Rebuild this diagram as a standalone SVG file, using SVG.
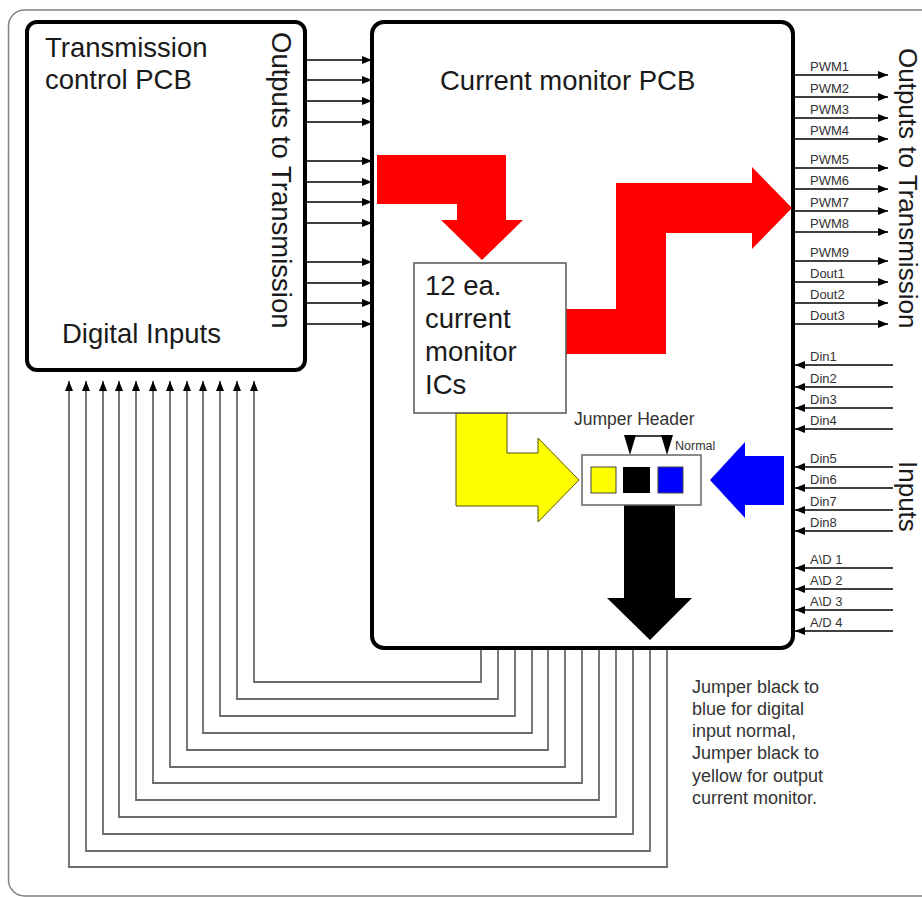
<svg xmlns="http://www.w3.org/2000/svg" width="922" height="897" viewBox="0 0 922 897">
<style>
  text { font-family: "Liberation Sans", Arial, sans-serif; }
  .big { font-size: 27.5px; fill: #1a1a1a; }
  .side { font-size: 26px; fill: #1a1a1a; }
  .lbl { font-size: 13px; fill: #333; }
  .note { font-size: 18px; fill: #333; }
  .pcb { fill: #fff; stroke: #000; stroke-width: 4; }
  .wire { stroke: #000; stroke-width: 1.3; fill: none; }
  .gwire { stroke: #6a6a6a; stroke-width: 1.8; fill: none; }
</style>
<defs>
  <marker id="ah" viewBox="0 0 10 8" refX="10" refY="4" markerWidth="10" markerHeight="8" markerUnits="userSpaceOnUse" orient="auto">
    <path d="M0,0 L10,4 L0,8 z" fill="#000"/>
  </marker>
</defs>
<rect x="0" y="0" width="922" height="897" fill="#fff"/>
<rect id="frame" x="8.5" y="10" width="940" height="886" rx="16" fill="none" stroke="#808080" stroke-width="1.5"/>

<g id="transmission-control-pcb">
  <rect class="pcb" x="27" y="22" width="278" height="348" rx="10"/>
  <text class="big" x="45" y="57">Transmission</text>
  <text class="big" x="45" y="89">control PCB</text>
  <text class="big" x="62" y="343">Digital Inputs</text>
  <text class="big" transform="translate(272,32) rotate(90)">Outputs to Transmission</text>
</g>

<g id="current-monitor-pcb">
  <rect class="pcb" x="372" y="22" width="421" height="626" rx="12"/>
  <text class="big" x="440" y="90">Current monitor PCB</text>
</g>

<g id="flow-arrows">
  <polygon fill="#ff0000" points="377,155 506,155 506,220 523,220 482,260 441,220 457,220 457,204 377,204"/>
  <polygon fill="#ff0000" points="566,309 616,309 616,183 752,183 752,167 792,208 752,249 752,233 666,233 666,354 566,354"/>
  <polygon fill="#ffff00" stroke="#555500" stroke-width="1" points="456,413 507,413 507,453 538,453 538,438 579,480 538,522 538,506 456,506"/>
  <polygon fill="#0000ff" points="710,480 745,442 745,456 784,456 784,505 745,505 745,518"/>
  <polygon fill="#000" points="624,505 675,505 675,598 692,598 650,640 607,598 624,598"/>
</g>

<g id="current-monitor-ics">
  <rect x="414" y="263" width="152" height="150" fill="#fff" stroke="#555" stroke-width="1.5"/>
  <text class="big" x="425" y="295">12 ea.</text>
  <text class="big" x="425" y="328">current</text>
  <text class="big" x="425" y="361">monitor</text>
  <text class="big" x="425" y="394">ICs</text>
</g>

<g id="jumper-header">
  <text x="574" y="425" font-size="17.5" fill="#333">Jumper Header</text>
  <line x1="630" y1="436" x2="667" y2="436" stroke="#000" stroke-width="1.3"/>
  <polygon points="624,435 636,435 630,455" fill="#000"/>
  <polygon points="661,435 673,435 667,455" fill="#000"/>
  <text x="675" y="450" font-size="12.5" fill="#333">Normal</text>
  <rect x="582" y="455" width="119" height="50" fill="#fff" stroke="#666" stroke-width="1.5"/>
  <rect x="591" y="467" width="25" height="26" fill="#ffff00" stroke="#444" stroke-width="1"/>
  <rect x="623" y="467" width="27" height="26" fill="#000"/>
  <rect x="658" y="467" width="25" height="26" fill="#0000ff" stroke="#444" stroke-width="1"/>
</g>

<g id="connectors">
  <g class="wire" marker-end="url(#ah)">
    <path d="M305,60 H372"/><path d="M305,80 H372"/><path d="M305,101 H372"/><path d="M305,122 H372"/>
    <path d="M305,161 H372"/><path d="M305,182 H372"/><path d="M305,202 H372"/><path d="M305,223 H372"/>
    <path d="M305,262 H372"/><path d="M305,283 H372"/><path d="M305,303 H372"/><path d="M305,324 H372"/>
    <path d="M793,75 H888"/><path d="M793,97 H888"/><path d="M793,118 H888"/><path d="M793,139 H888"/>
    <path d="M793,168 H888"/><path d="M793,189 H888"/><path d="M793,211 H888"/><path d="M793,232 H888"/>
    <path d="M793,261 H888"/><path d="M793,282 H888"/><path d="M793,303 H888"/><path d="M793,324 H888"/>
    <path d="M893,365 H795"/><path d="M893,387 H795"/><path d="M893,408 H795"/><path d="M893,429 H795"/>
    <path d="M893,467 H795"/><path d="M893,488 H795"/><path d="M893,510 H795"/><path d="M893,531 H795"/>
    <path d="M893,568 H795"/><path d="M893,589 H795"/><path d="M893,610 H795"/><path d="M893,631 H795"/>
  </g>
  <g class="gwire" marker-end="url(#ah)">
    <path d="M481,650 V682 H254 V381"/>
    <path d="M498,650 V699 H237 V381"/>
    <path d="M515,650 V716 H220 V381"/>
    <path d="M532,650 V733 H203 V381"/>
    <path d="M548,650 V750 H187 V381"/>
    <path d="M565,650 V767 H170 V381"/>
    <path d="M582,650 V783 H153 V381"/>
    <path d="M599,650 V800 H136 V381"/>
    <path d="M616,650 V817 H119 V381"/>
    <path d="M633,650 V834 H103 V381"/>
    <path d="M650,650 V851 H86 V381"/>
    <path d="M667,650 V867 H69 V381"/>
  </g>
</g>

<g id="signal-labels">
  <text class="lbl" x="810" y="71">PWM1</text>
  <text class="lbl" x="810" y="93">PWM2</text>
  <text class="lbl" x="810" y="114">PWM3</text>
  <text class="lbl" x="810" y="135">PWM4</text>
  <text class="lbl" x="810" y="164">PWM5</text>
  <text class="lbl" x="810" y="185">PWM6</text>
  <text class="lbl" x="810" y="207">PWM7</text>
  <text class="lbl" x="810" y="228">PWM8</text>
  <text class="lbl" x="810" y="257">PWM9</text>
  <text class="lbl" x="810" y="278">Dout1</text>
  <text class="lbl" x="810" y="299">Dout2</text>
  <text class="lbl" x="810" y="320">Dout3</text>
  <text class="lbl" x="810" y="361">Din1</text>
  <text class="lbl" x="810" y="383">Din2</text>
  <text class="lbl" x="810" y="404">Din3</text>
  <text class="lbl" x="810" y="425">Din4</text>
  <text class="lbl" x="810" y="463">Din5</text>
  <text class="lbl" x="810" y="484">Din6</text>
  <text class="lbl" x="810" y="506">Din7</text>
  <text class="lbl" x="810" y="527">Din8</text>
  <text class="lbl" x="810" y="564">A\D 1</text>
  <text class="lbl" x="810" y="585">A\D 2</text>
  <text class="lbl" x="810" y="606">A\D 3</text>
  <text class="lbl" x="810" y="627">A/D 4</text>
  <text class="side" transform="translate(899,48) rotate(90)">Outputs to Transmission</text>
  <text class="side" transform="translate(899,461) rotate(90)">Inputs</text>
</g>

<g id="note">
  <text class="note" x="692" y="693">Jumper black to</text>
  <text class="note" x="692" y="715">blue for digital</text>
  <text class="note" x="692" y="737">input normal,</text>
  <text class="note" x="692" y="759">Jumper black to</text>
  <text class="note" x="692" y="782">yellow for output</text>
  <text class="note" x="692" y="804">current monitor.</text>
</g>
</svg>
